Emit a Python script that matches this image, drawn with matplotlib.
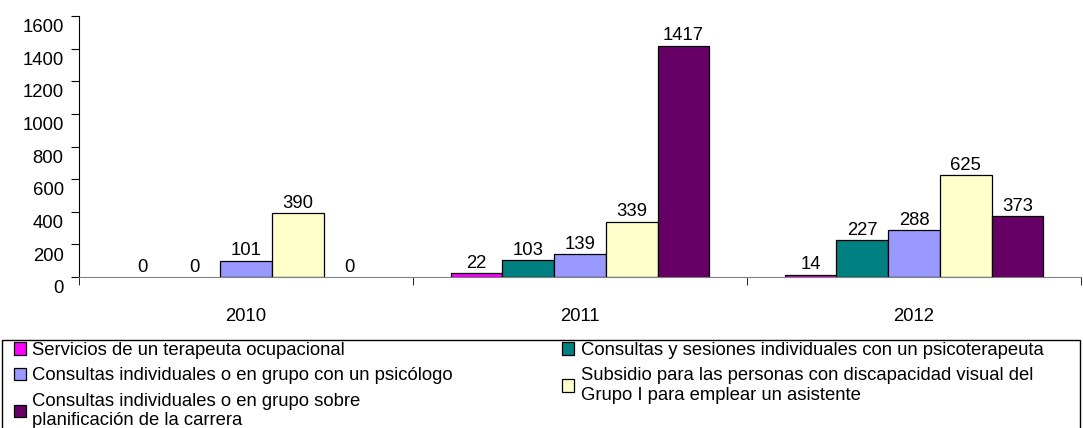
import matplotlib
matplotlib.use("Agg")
from matplotlib import pyplot as plt
from matplotlib import transforms
from matplotlib.patches import Rectangle
import numpy as np

plt.rcParams['font.family'] = ['Liberation Sans', 'DejaVu Sans']

years = ["2010", "2011", "2012"]
series_names = [
    "Servicios de un terapeuta ocupacional",
    "Consultas y sesiones individuales con un psicoterapeuta",
    "Consultas individuales o en grupo con un psicólogo",
    "Subsidio para las personas con discapacidad visual del\nGrupo I para emplear un asistente",
    "Consultas individuales o en grupo sobre\nplanificación de la carrera",
]
terapeuta = [0, 22, 14]
psicoterapeuta = [0, 103, 227]
psicologo = [101, 139, 288]
subsidio = [390, 339, 625]
carrera = [0, 1417, 373]
colors = ["#FF00FF", "#008080", "#9999FF", "#FFFFCC", "#660066"]

series = [terapeuta, psicoterapeuta, psicologo, subsidio, carrera]
fs = 13.3

fig = plt.figure(figsize=(10.83, 4.28), dpi=100)
ax = fig.add_axes([79/1083, 1 - 277/428, 1002/1083, 261/428])

x = np.arange(len(years))
w = 0.155
bars = []
for i, (vals, c, name) in enumerate(zip(series, colors, series_names)):
    b = ax.bar(x + (i - 2) * w, vals, w, color=c, edgecolor="black",
               linewidth=0.9, label=name)
    # zero bars leave no mark on the axis
    for p, v in zip(b.patches, vals):
        if v == 0:
            p.set_linewidth(0)
    ax.bar_label(b, labels=[str(v) for v in vals], padding=1, fontsize=fs)
    bars.append(b)

ax.set_xlim(-0.5, 2.5)
ax.set_ylim(0, 1600)
ax.set_yticks(range(0, 1601, 200))
ax.tick_params(axis="y", direction="out", length=6, labelsize=fs, pad=5)
offset = transforms.ScaledTranslation(0, -7/72, fig.dpi_scale_trans)
for lab in ax.get_yticklabels():
    lab.set_transform(lab.get_transform() + offset)

ax.set_xticks(x)
ax.set_xticklabels(years)
ax.set_xticks([-0.5, 0.5, 1.5, 2.5], minor=True)
ax.tick_params(axis="x", which="major", length=0, labelsize=fs, pad=22)
ax.tick_params(axis="x", which="minor", direction="out", length=6, color="black")

for s in ["top", "right"]:
    ax.spines[s].set_visible(False)
ax.spines["bottom"].set_color("#808080")
ax.spines["left"].set_color("black")

# legend frame spans the full width and runs off the bottom
fig.patches.append(Rectangle((2/1083, -0.05), 1078/1083, 1 - 340/428 + 0.05,
                             transform=fig.transFigure, fill=False,
                             edgecolor="black", linewidth=1.0))

order = [0, 2, 4, 1, 3]
leg = fig.legend([bars[i] for i in order], [series_names[i] for i in order],
                 loc="upper left", bbox_to_anchor=(14/1083, 1 - 342/428),
                 ncol=2, fontsize=fs, frameon=False,
                 borderaxespad=0, borderpad=0, handlelength=0.65,
                 handleheight=0.65, handletextpad=0.35, labelspacing=0.45,
                 columnspacing=5.9)
for h in leg.legend_handles:
    h.set_linewidth(0.9)

fig.savefig("out.png", dpi=100)
